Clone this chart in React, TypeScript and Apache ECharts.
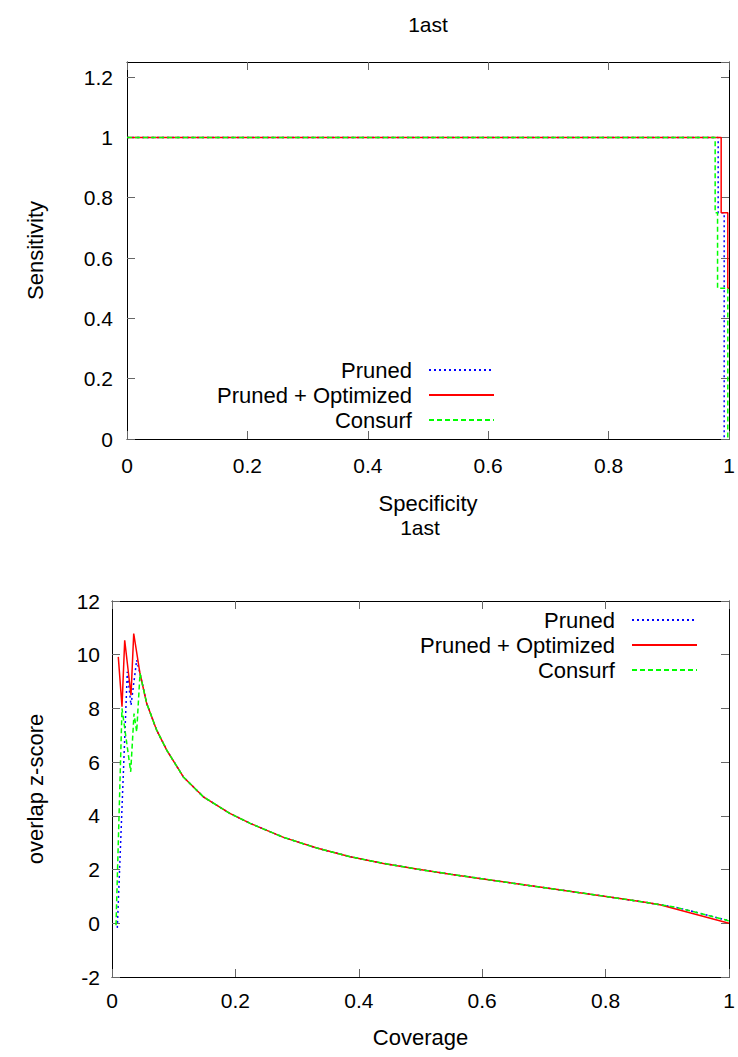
import React, { useEffect, useRef } from "react";
import * as echarts from "echarts";

// ---------- data ----------
const chartTitle = "1ast";
const seriesNames = ["Pruned", "Pruned + Optimized", "Consurf"];

// ROC-like plot (Specificity vs Sensitivity)
const rocPrunedSpec = [0, 0.982, 0.982, 0.992, 0.992];
const rocPrunedSens = [1, 1, 0.75, 0.75, 0];
const rocOptSpec = [0, 0.987, 0.987, 0.998, 0.998, 1];
const rocOptSens = [1, 1, 0.75, 0.75, 0.5, 0.5];
const rocConsurfSpec = [0, 0.977, 0.977, 0.981, 0.981, 0.998, 0.998];
const rocConsurfSens = [1, 1, 0.75, 0.75, 0.5, 0.5, 0];

// Coverage vs overlap z-score
const covCommon = [0.0454, 0.0562, 0.0724, 0.0887, 0.1156, 0.148, 0.191, 0.224, 0.278, 0.332, 0.386, 0.44, 0.494, 0.548, 0.596, 0.65, 0.705, 0.758, 0.812, 0.867, 0.888];
const zCommon = [9.3, 8.19, 7.19, 6.45, 5.45, 4.71, 4.09, 3.72, 3.2, 2.8, 2.48, 2.23, 2.02, 1.83, 1.67, 1.49, 1.31, 1.14, 0.96, 0.77, 0.69];

const covPrunedHead = [0.0086, 0.0248, 0.0308, 0.04];
const zPrunedHead = [-0.17, 9.36, 8.12, 9.8];
const covOptHead = [0.0102, 0.0162, 0.0206, 0.0308, 0.0352];
const zOptHead = [9.92, 8.06, 10.54, 8.49, 10.79];
const covConsurfHead = [0.0065, 0.0162, 0.0303, 0.0357, 0.04];
const zConsurfHead = [-0.07, 8.0, 5.64, 7.81, 7.13];

const covOptTail = [1.0];
const zOptTail = [0.0];
const covConsurfTail = [0.915, 0.953, 0.996, 1.0];
const zConsurfTail = [0.59, 0.37, 0.12, 0.08];
const covPrunedTail = [0.915, 0.953, 0.996, 1.0];
const zPrunedTail = [0.59, 0.37, 0.12, 0.08];

// ---------- helpers ----------
const zip = (xs: number[], ys: number[]) => xs.map((x, i) => [x, ys[i]]);

const FONT = "Liberation Sans, Arial, Helvetica, sans-serif";
const FS = 21;
const FS_BIG = 22;
const BLUE = "#0000ff";
const RED = "#ff0000";
const GREEN = "#00ff00";

const lineStyles = [
  { color: BLUE, width: 1.5, type: [2, 3] as any },
  { color: RED, width: 1.5, type: "solid" as any },
  { color: GREEN, width: 1.5, type: [5, 3] as any },
];

function axis(extra: any) {
  return {
    type: "value",
    axisLine: { show: true, onZero: false, lineStyle: { color: "#000", width: 1 } },
    axisTick: { show: true, inside: true, length: 8, lineStyle: { color: "#666", width: 1 } },
    splitLine: { show: false },
    nameTextStyle: { color: "#000", fontFamily: FONT, fontSize: FS_BIG },
    ...extra,
    axisLabel: { color: "#000", fontFamily: FONT, fontSize: FS, ...(extra.axisLabel || {}) },
  };
}

function legend(right: number, top: number) {
  return {
    orient: "vertical",
    right,
    top,
    align: "right",
    padding: 0,
    itemWidth: 65,
    itemHeight: 14,
    itemGap: 1,
    selectedMode: false,
    data: seriesNames,
    itemStyle: { opacity: 0 },
    textStyle: { fontFamily: FONT, fontSize: FS_BIG, color: "#000", lineHeight: 24, padding: [0, 12, 0, 0] },
  };
}

export default function App() {
  const ref = useRef<HTMLDivElement>(null);
  useEffect(() => {
    if (!ref.current) return;
    const chart = echarts.init(ref.current, undefined, { renderer: "svg" });

    const rocData = [zip(rocPrunedSpec, rocPrunedSens), zip(rocOptSpec, rocOptSens), zip(rocConsurfSpec, rocConsurfSens)];
    const covData = [
      [...zip(covPrunedHead, zPrunedHead), ...zip(covCommon, zCommon), ...zip(covPrunedTail, zPrunedTail)],
      [...zip(covOptHead, zOptHead), ...zip(covCommon, zCommon), ...zip(covOptTail, zOptTail)],
      [...zip(covConsurfHead, zConsurfHead), ...zip(covCommon, zCommon), ...zip(covConsurfTail, zConsurfTail)],
    ];

    const series: any[] = [];
    seriesNames.forEach((name, i) => {
      series.push({
        name,
        type: "line",
        xAxisIndex: 0,
        yAxisIndex: 0,
        symbol: "none",
        data: rocData[i],
        lineStyle: lineStyles[i],
        itemStyle: { color: lineStyles[i].color },
      });
    });
    seriesNames.forEach((name, i) => {
      series.push({
        name,
        type: "line",
        xAxisIndex: 2,
        yAxisIndex: 2,
        symbol: "none",
        data: covData[i],
        lineStyle: lineStyles[i],
        itemStyle: { color: lineStyles[i].color },
      });
    });

    chart.setOption({
      animation: false,
      backgroundColor: "#fff",
      grid: [
        { left: 127, right: 9, top: 62, height: 377 },
        { left: 112, right: 9, top: 601, height: 376 },
      ],
      graphic: [
        { type: "text", x: 428, y: 24, style: { text: chartTitle, font: `${FS}px ${FONT}`, fill: "#000", align: "center", verticalAlign: "middle" } },
        { type: "text", x: 420, y: 527, style: { text: chartTitle, font: `${FS}px ${FONT}`, fill: "#000", align: "center", verticalAlign: "middle" } },
      ],
      xAxis: [
        axis({ gridIndex: 0, min: 0, max: 1, interval: 0.2, position: "bottom", name: "Specificity", nameLocation: "middle", nameGap: 53, axisLabel: { margin: 16 } }),
        axis({ gridIndex: 0, min: 0, max: 1, interval: 0.2, position: "top", axisLabel: { show: false } }),
        axis({ gridIndex: 1, min: 0, max: 1, interval: 0.2, position: "bottom", name: "Coverage", nameLocation: "middle", nameGap: 49, axisLabel: { margin: 13 } }),
        axis({ gridIndex: 1, min: 0, max: 1, interval: 0.2, position: "top", axisLabel: { show: false } }),
      ],
      yAxis: [
        axis({ gridIndex: 0, min: 0, max: 1.25, interval: 0.2, position: "left", name: "Sensitivity", nameLocation: "middle", nameRotate: 90, nameGap: 81, axisLabel: { margin: 14, showMaxLabel: false } }),
        axis({ gridIndex: 0, min: 0, max: 1.25, interval: 0.2, position: "right", axisLabel: { show: false } }),
        axis({ gridIndex: 1, min: -2, max: 12, interval: 2, position: "left", name: "overlap z-score", nameLocation: "middle", nameRotate: 90, nameGap: 66, axisLabel: { margin: 12 } }),
        axis({ gridIndex: 1, min: -2, max: 12, interval: 2, position: "right", axisLabel: { show: false } }),
      ],
      legend: [legend(243, 358), legend(40, 608)],
      series,
    });
    return () => chart.dispose();
  }, []);
  return <div ref={ref} style={{ position: "fixed", left: 0, top: 0, width: 738, height: 1057 }} />;
}
